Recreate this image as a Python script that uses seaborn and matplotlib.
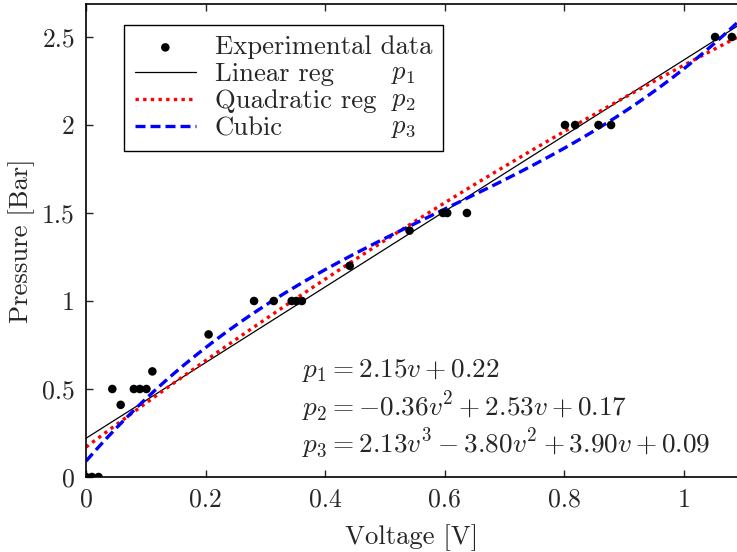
import numpy as np
import pandas as pd
import matplotlib
matplotlib.use("Agg")
import matplotlib.pyplot as plt
import seaborn as sns
from matplotlib.ticker import FuncFormatter

# ---- data ----
volt = [0.0, 0.010, 0.021, 0.044, 0.058, 0.080, 0.090, 0.101, 0.111,
        0.205, 0.281, 0.314, 0.344, 0.352, 0.361, 0.441, 0.541,
        0.597, 0.604, 0.637, 0.801, 0.818, 0.857, 0.878, 1.052, 1.080]
pres = [0.0, 0.0, 0.0, 0.50, 0.41, 0.50, 0.50, 0.50, 0.60,
        0.81, 1.00, 1.00, 1.00, 1.00, 1.00, 1.20, 1.40,
        1.50, 1.50, 1.50, 2.00, 2.00, 2.00, 2.00, 2.50, 2.50]
coef_lin = [2.15, 0.22]
coef_quad = [-0.36, 2.53, 0.17]
coef_cub = [2.13, -3.80, 3.90, 0.09]
legend_labels = ["Experimental data", "Linear reg", "Quadratic reg", "Cubic"]
p_labels = ["$p_1$", "$p_2$", "$p_3$"]
eq_texts = [r"$p_1 = 2.15v + 0.22$",
            r"$p_2 = -0.36v^2 + 2.53v + 0.17$",
            r"$p_3 = 2.13v^3 - 3.80v^2 + 3.90v + 0.09$"]
x_ticks = [0, 0.2, 0.4, 0.6, 0.8, 1.0]
y_ticks = [0, 0.5, 1.0, 1.5, 2.0, 2.5]

sns.set_style("ticks")
plt.rcParams["font.family"] = ["cmr10", "DejaVu Serif"]
plt.rcParams["mathtext.fontset"] = "cm"
plt.rcParams["axes.formatter.use_mathtext"] = True
plt.rcParams["axes.unicode_minus"] = False
FS = 18.5
FS_LEG = 19.2
FS_EQ = 19.6

fig = plt.figure(figsize=(7.37, 5.52), dpi=100)
ax = fig.add_axes([86 / 737, 1 - 477 / 552, 1 - 86 / 737, (477 - 4) / 552])

xmax = 651 / 598
vgrid = np.linspace(0, xmax, 400)
df = pd.DataFrame({
    "v": vgrid,
    "lin": np.polyval(coef_lin, vgrid),
    "quad": np.polyval(coef_quad, vgrid),
    "cub": np.polyval(coef_cub, vgrid),
})

sns.scatterplot(x=volt, y=pres, color="black", s=38, edgecolor="none",
                label=legend_labels[0], ax=ax, zorder=5)
sns.lineplot(data=df, x="v", y="lin", color="black", linewidth=0.9,
             label=legend_labels[1], ax=ax)
sns.lineplot(data=df, x="v", y="quad", color="red", linewidth=2.4,
             linestyle=(0, (1, 1.3)), label=legend_labels[2], ax=ax)
sns.lineplot(data=df, x="v", y="cub", color="blue", linewidth=2.4,
             linestyle=(0, (3, 1.5)), label=legend_labels[3], ax=ax)

ax.set_xlim(0, xmax)
ax.set_ylim(0, (477 - 4) / 176)
ax.set_xticks(x_ticks)
ax.set_yticks(y_ticks)
fmt = FuncFormatter(lambda v, p: "%g" % v)
ax.xaxis.set_major_formatter(fmt)
ax.yaxis.set_major_formatter(fmt)
ax.tick_params(direction="in", top=True, right=False, length=5, width=1,
               labelsize=FS, pad=8)
ax.spines["right"].set_visible(False)
for s in ["left", "top", "bottom"]:
    ax.spines[s].set_linewidth(1.2)
    ax.spines[s].set_color("black")

ax.set_xlabel("Voltage [V]", fontsize=FS_LEG, labelpad=9)
ax.set_ylabel("Pressure [Bar]", fontsize=FS_LEG, labelpad=5)

leg = ax.legend(loc="upper left", bbox_to_anchor=((124 - 86) / 651, (477 - 25) / 473),
                borderaxespad=0, fontsize=FS_LEG, frameon=True, fancybox=False,
                edgecolor="black", framealpha=1, handlelength=2.3,
                handletextpad=0.7, labelspacing=0.12, borderpad=0.4,
                markerscale=1.0)
leg.get_frame().set_linewidth(1.0)

fig.canvas.draw()
texts = leg.get_texts()
for t, pl in zip(texts[1:], p_labels):
    ax.annotate(pl, xy=((391 - 86) / 651, 0.5), xycoords=(ax.transAxes, t),
                fontsize=FS_LEG, va="center", ha="left", zorder=10)

for i, eq in enumerate(eq_texts):
    ax.text((302 - 86) / 651, (477 - (370 + 37 * i)) / 473, eq, fontsize=FS_EQ,
            transform=ax.transAxes, va="center", ha="left")

fig.savefig("out.png", dpi=100)
